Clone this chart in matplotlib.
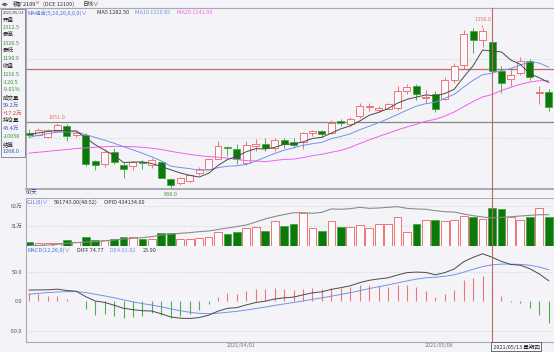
import matplotlib
import numpy as np

matplotlib.use("Agg")
import matplotlib.pyplot as plt
import matplotlib.transforms as mtransforms
from matplotlib.lines import Line2D
from matplotlib.patches import Rectangle

# Iron ore 2109 daily bars, 2021/03/01 .. 2021/05/21
opens = [1018, 1010, 1004, 1024, 1040, 1010, 1010, 927, 918, 956, 914, 909, 925, 914, 922, 868,
         855, 862, 887, 900, 934, 971, 967, 919, 975, 983, 968, 994, 988, 988, 1018, 1024,
         1018, 1055, 1048, 1072, 1102, 1091, 1096, 1098, 1153, 1169, 1130, 1142, 1126, 1188,
         1239, 1348, 1317, 1312.5, 1217, 1193, 1212, 1250, 1147, 1150]
highs = [1029, 1032, 1031, 1051, 1048, 1022, 1018, 929, 964, 968, 922, 927, 930, 935, 927, 870,
         874, 885, 908, 934, 991, 975, 981, 990, 997, 1000, 1000, 1001, 1000, 1022, 1028, 1028,
         1058, 1063, 1070, 1115, 1115, 1106, 1116, 1169, 1176, 1177, 1158, 1153, 1200, 1244,
         1350, 1356, 1358, 1326.5, 1233, 1225, 1262, 1258, 1171, 1160]
lows = [1003, 1006, 1002, 1020, 992, 1005, 911, 898, 906, 918, 873, 898, 900, 905, 870, 838,
        850, 858, 880, 897, 932, 943, 916, 915, 960, 958, 960, 970, 970, 964, 1008, 1005,
        1014, 1040, 1040, 1067, 1090, 1085, 1094, 1093, 1145, 1124, 1116, 1085, 1124, 1180,
        1225, 1276, 1296, 1190, 1148, 1170, 1205, 1188, 1110, 1090]
closes = [1012, 1027, 1027, 1044, 1007, 1016, 916, 914, 957, 922, 900, 922, 919, 929, 873, 848,
          871, 880, 902, 932, 975, 968, 932, 977, 981, 970, 994, 983, 980, 1016, 1025, 1013,
          1051, 1049, 1064, 1104, 1105, 1099, 1110, 1152, 1165, 1142, 1134, 1094, 1190, 1235,
          1339, 1318, 1348, 1216.5, 1178, 1206, 1249, 1198, 1150, 1101]

ma5 = [1013, 1018, 1022, 1026, 1023.4, 1024.2, 1002, 979.4, 962, 945, 921.8, 923, 924, 918.4,
       908.6, 898.2, 888, 880.2, 874.8, 886.6, 912, 931.4, 941.8, 956.8, 966.6, 965.6, 970.8,
       981, 981.6, 988.6, 999.6, 1003.4, 1017, 1030.8, 1040.4, 1056.2, 1074.6, 1084.2, 1096.4,
       1114, 1126.2, 1133.6, 1140.6, 1137.4, 1145, 1159, 1198.4, 1235.2, 1286, 1282.5, 1279.9,
       1253.3, 1239.5, 1209.5, 1196.2, 1180.8]
ma10 = [1003, 1010, 1015, 1020, 1021, 1021, 1012, 1003, 994, 984.2, 973, 962.5, 951.7, 940.2,
        926.8, 910, 905.5, 902.1, 896.6, 897.6, 905.1, 909.7, 911, 915.8, 926.6, 938.8, 951.1,
        961.4, 969.2, 977.6, 982.6, 987.1, 999, 1006.2, 1014.5, 1027.9, 1039, 1050.6, 1063.6,
        1077.2, 1091.2, 1104.1, 1112.4, 1116.9, 1129.5, 1142.6, 1166, 1187.9, 1206, 1210.85,
        1219.5, 1225.9, 1237.4, 1247.8, 1243.8, 1230.4]
ma20 = [952, 955, 958, 961, 964, 967, 969, 971, 973, 974, 974, 973, 971, 968, 964, 958, 953,
        948, 944, 940.9, 939.05, 936.1, 931.35, 928, 926.7, 924.4, 928.3, 931.75, 932.9, 937.6,
        943.85, 948.4, 955, 961, 970.55, 983.35, 995.05, 1006, 1016.4, 1027.4, 1036.9, 1045.6,
        1055.7, 1061.55, 1072, 1085.25, 1102.5, 1119.25, 1134, 1141.9, 1155.3, 1165, 1174.9,
        1182.3, 1186.6, 1186.5]

# volume and open interest, in 万 (10k lots)
volume = [5.7, 5.4, 5.4, 5.0, 9.3, 6.0, 13.5, 9.3, 9.3, 10.9, 14.5, 14.0, 10.9, 11.5, 19.6, 19.6,
          11.5, 11.5, 12.5, 13.5, 22.2, 18.6, 22.2, 28.4, 29.0, 23.8, 38.8, 31.0, 33.6, 50.6,
          27.4, 23.8, 39.0, 29.5, 29.0, 32.0, 27.4, 34.6, 34.0, 44.4, 21.2, 34.1, 39.8, 40.3,
          38.2, 39.8, 47.0, 44.4, 42.0, 59.2, 56.8, 45.4, 40.0, 45.4, 59.4, 44.4]
open_int = [0.5, 1.0, 1.5, 2.6, 4.2, 5.1, 6.2, 6.7, 7.8, 9.3, 10.9, 11.9, 12.9, 14.5, 17.0, 18.6,
            19.6, 20.7, 22.2, 23.2, 25.6, 27.9, 30.2, 32.6, 37.2, 41.9, 45.7, 48.8, 51.6, 51.6,
            50.7, 52.2, 57.4, 56.9, 57.8, 60.0, 58.4, 58.9, 60.0, 61.0, 58.4, 57.4, 56.9, 54.7,
            53.2, 52.7, 49.6, 47.0, 45.0, 43.4, 44.4, 45.4, 46.5, 47.5, 48.5, 48.5]

diff = [19.0, 19.3, 19.4, 20.6, 18.3, 17.0, 7.9, 0.5, -1.9, -6.6, -11.9, -14.2, -16.0, -16.5,
        -21.2, -26.6, -28.6, -29.2, -27.6, -23.6, -16.8, -11.9, -10.7, -6.1, -2.1, 0.2, 3.9,
        5.9, 7.1, 10.9, 14.4, 16.1, 20.2, 23.1, 26.3, 31.6, 35.6, 37.8, 39.9, 44.5, 48.6, 49.5,
        48.9, 44.8, 48.6, 54.7, 67.1, 74.4, 80.5, 74.77, 67.5, 62.4, 61.1, 55.3, 46.3, 34.8]
dea = [12.0, 13.5, 14.7, 15.8, 16.3, 16.5, 14.8, 11.9, 9.1, 6.0, 2.4, -0.9, -3.9, -6.4, -9.4,
       -12.8, -16.0, -18.6, -20.4, -21.1, -20.2, -18.6, -17.0, -14.8, -12.3, -9.8, -7.0, -4.5,
       -2.1, 0.5, 3.3, 5.8, 8.7, 11.6, 14.5, 17.9, 21.5, 24.7, 27.8, 31.1, 34.6, 37.6, 39.9,
       40.8, 42.4, 44.9, 49.3, 54.3, 58.8, 61.82, 63.0, 62.9, 62.5, 61.1, 58.1, 53.4]
macd_bar = [14.0, 11.6, 9.4, 9.6, 4.0, 1.0, -13.8, -22.8, -22.0, -25.2, -28.6, -26.6, -24.2,
            -20.2, -23.6, -27.6, -25.2, -21.2, -14.4, -5.0, 6.8, 13.4, 12.6, 17.4, 20.4, 20.0,
            21.8, 20.8, 18.4, 20.8, 22.2, 20.6, 23.0, 23.0, 23.6, 27.4, 28.2, 26.2, 24.2, 26.8,
            28.0, 23.8, 18.0, 8.0, 12.4, 19.6, 35.6, 40.2, 43.4, 25.9, 9.0, -1.0, -2.8, -11.6,
            -23.6, -37.2]

date_ticks = [23, 44]
date_labels = ["2021/04/01", "2021/05/06"]
cursor_idx = 49
cursor_price = 1226
level_line = 1054

info_labels = ["开盘", "1312.5", "最高", "1326.5", "最低", "1190.0", "收盘", "1216.5", "-120.5",
               "-9.01%", "成交量", "59.2万", "+17.2万", "持仓量", "43.4万", "-10038", "结算", "1268.0"]

W, H = 554, 352
BG = "#F4F4F8"
HOLLOW = "#FBFBFD"
UP = "#F07474"
DOWN = "#0B7A0B"
DOWN_EDGE = "#3C9E3C"
WICK_DN = "#4FAF4F"
MA5_C = "#4A4A4A"
MA10_C = "#7393E8"
MA20_C = "#F060F0"
CROSS_C = "#BB6A6A"
GRID_C = "#C4C4CC"
FRAME_C = "#A9A9B2"
BLUE_T = "#4F6FD8"
FS = 4.0

plt.rcParams["font.family"] = ["Noto Sans CJK SC", "DejaVu Sans"]
plt.rcParams["font.weight"] = "light"

fig = plt.figure(figsize=(W / 100, H / 100), dpi=100, facecolor=BG)


def put(px, py, s, color="#222222", size=FS, ha="left", **kw):
    fig.text(px / W, 1 - py / H, s, color=color, fontsize=size, ha=ha, va="center", **kw)


def add_panel(top, bottom):
    ax = fig.add_axes([26 / W, 1 - bottom / H, 1 - 26 / W, (bottom - top) / H])
    ax.set_facecolor(BG)
    ax.set_xlim(-0.32, 55.56)
    ax.set_xticks([])
    for side in ("top", "right", "bottom"):
        ax.spines[side].set_visible(False)
    ax.spines["left"].set_color(FRAME_C)
    ax.spines["left"].set_linewidth(0.8)
    ax.tick_params(axis="y", length=0, pad=2.5, labelsize=FS, labelcolor="#555555")
    return ax


x = np.arange(len(closes))
o, c = np.array(opens), np.array(closes)
h, l = np.array(highs), np.array(lows)
up = c >= o

# ---- price panel
ax_p = add_panel(8, 189)
ax_p.set_ylim(836, 1422)
ax_p.set_yticks([])
ax_p.spines["top"].set_visible(True)
ax_p.spines["top"].set_color(FRAME_C)
ax_p.spines["bottom"].set_visible(True)
ax_p.spines["bottom"].set_color(FRAME_C)
ax_p.spines["bottom"].set_linewidth(1.4)
for lv in (1000, 1258):
    ax_p.axhline(lv, color=GRID_C, lw=0.6, ls=(0, (1, 2)), zorder=0)
ax_p.axhline(level_line, color="#858585", lw=0.9, zorder=1)
ax_p.axhline(cursor_price, color=CROSS_C, lw=0.9, zorder=1)

top = np.maximum(o, c)
bot = np.minimum(o, c)
wick_colors = np.where(up, UP, WICK_DN)
ax_p.vlines(x, top, h, colors=wick_colors, lw=0.7, zorder=2)
ax_p.vlines(x, l, bot, colors=wick_colors, lw=0.7, zorder=2)
body = np.maximum(top - bot, 1.5)
ax_p.bar(x[up], body[up], bottom=bot[up], width=0.74, facecolor=HOLLOW,
         edgecolor=UP, linewidth=0.7, zorder=3)
ax_p.bar(x[~up], body[~up], bottom=bot[~up], width=0.74, facecolor=DOWN,
         edgecolor=DOWN_EDGE, linewidth=0.5, zorder=3)

ax_p.plot(x, ma20, color=MA20_C, lw=0.7, zorder=4)
ax_p.plot(x, ma10, color=MA10_C, lw=0.7, zorder=4)
ax_p.plot(x, ma5, color=MA5_C, lw=0.7, zorder=4)

i_hi1 = 3
i_hi2 = int(np.argmax(h))
i_lo = int(np.argmin(l))
for i, dy in ((i_hi1, 2.2), (i_hi2, 3.8)):
    ax_p.annotate(f"{h[i]:.1f}", (i, h[i]), xytext=(0, dy), textcoords="offset points",
                  ha="center", va="bottom", fontsize=FS, color=UP,
                  arrowprops=dict(arrowstyle="-", color=UP, lw=0.5, shrinkA=0, shrinkB=0),
                  annotation_clip=False)
ax_p.annotate(f"{l[i_lo]:.1f}", (i_lo, l[i_lo]), xytext=(0, -4.5), textcoords="offset points",
              ha="center", va="center", fontsize=FS, color="#3A9A3A", annotation_clip=False)

# ---- volume panel
ax_v = add_panel(198, 246)
ax_v.set_ylim(0, 74.4)
ax_v.spines["top"].set_visible(True)
ax_v.spines["top"].set_color(FRAME_C)
ax_v.spines["top"].set_linewidth(0.7)
ax_v.set_yticks([62, 31])
ax_v.set_yticklabels(["62万", "31万"])
for lv in (62, 31):
    ax_v.axhline(lv, color=GRID_C, lw=0.6, ls=(0, (1, 2)), zorder=0)
vol = np.array(volume)
ax_v.bar(x[up], vol[up], width=0.82, facecolor=HOLLOW, edgecolor=UP, linewidth=0.7, zorder=2)
ax_v.bar(x[~up], vol[~up], width=0.82, facecolor=DOWN, edgecolor=DOWN_EDGE, linewidth=0.5, zorder=2)
ax_v.plot(x, open_int, color="#8C8C8C", lw=0.8, zorder=3)

# ---- MACD panel
ax_m = add_panel(246, 341.7)
ax_m.set_ylim(-68.5, 93.7)
ax_m.spines["bottom"].set_visible(True)
ax_m.spines["bottom"].set_color(FRAME_C)
ax_m.set_yticks([50, 0, -50])
ax_m.set_yticklabels(["50.0", "0.0", "-50.0"])
for lv in (50, -50):
    ax_m.axhline(lv, color=GRID_C, lw=0.6, ls=(0, (1, 2)), zorder=0)
mb = np.array(macd_bar)
ax_m.vlines(x, 0, mb, colors=np.where(mb >= 0, UP, WICK_DN), lw=0.8, zorder=2)
ax_m.plot(x, dea, color=MA10_C, lw=0.7, zorder=3)
ax_m.plot(x, diff, color=MA5_C, lw=0.7, zorder=3)

# ---- cursor line through all panels
blend = mtransforms.blended_transform_factory(ax_p.transData, fig.transFigure)
fig.add_artist(Line2D([cursor_idx, cursor_idx], [0, 1 - 8 / H], transform=blend,
                      color=CROSS_C, lw=0.8, zorder=10))

# ---- headers
fig.add_artist(Line2D([0, 1], [1 - 8 / H, 1 - 8 / H], transform=fig.transFigure,
                      color=FRAME_C, lw=0.8))
put(1, 4.3, "◀▶", color="#666666", size=3.0)
put(12.5, 4.3, "铁矿2109", color="#222222")
put(35.5, 2.8, "M", color="#E04040", size=2.6)
put(43, 4.3, "(DCE 12109)", color="#333333")
put(82, 4.3, "日线∨", color="#333333")

put(27, 12.7, "MA组合(5,10,20,0,0,0)∨", color=BLUE_T)
put(97, 12.7, "MA5 1282.50", color="#333333")
put(135, 12.7, "MA10 1210.85", color=MA10_C)
put(177, 12.7, "MA20 1141.90", color=MA20_C)

put(26, 192.5, "60天", color="#34468C")
put(27, 202.7, "CJL(0)∨", color=BLUE_T)
put(54, 202.7, "591743.00(48:52)", color="#333333")
put(104, 202.7, "OPID 434134.00", color="#333333")

put(27, 250, "MACD(12,26,9)∨", color=BLUE_T)
put(77, 250, "DIFF 74.77", color="#333333")
put(110, 250, "DEA 61.82", color=MA10_C)
put(143, 250, "25.90", color="#333333")

# ---- left info box
fig.add_artist(Rectangle((1 / W, 1 - 156.7 / H), 24 / W, 147.4 / H, transform=fig.transFigure,
                         facecolor=BG, edgecolor="#8A8A92", lw=0.7))
put(2.5, 12.7, "2021/05/13", color="#333333", size=2.9)
info_colors = ["#222222", "#2E9A2E", "#222222", "#2E9A2E", "#222222", "#2E9A2E", "#222222",
               "#2E9A2E", "#2E9A2E", "#2E9A2E", "#222222", "#3550C0", "#E03C3C", "#222222",
               "#3550C0", "#2E9A2E", "#222222", "#3550C0"]
for k, (txt, col) in enumerate(zip(info_labels, info_colors)):
    put(2.5, 20 + k * 7.75, txt, color=col)

# ---- date axis
date_tf = mtransforms.blended_transform_factory(ax_m.transData, fig.transFigure)
for pos, lab in zip(date_ticks, date_labels):
    fig.text(pos - 0.55, 1 - 346 / H, lab, transform=date_tf, ha="center", va="center",
             fontsize=FS, color="#7A7A7A")
fig.text(cursor_idx, 1 - 346.5 / H, " 2021/05/13 星期四", transform=date_tf, ha="left",
         va="center", fontsize=FS, color="#222222", zorder=11,
         bbox=dict(boxstyle="square,pad=0.25", facecolor="#FAFAFC", edgecolor="#555555", lw=0.6))

fig.savefig("out.png", dpi=100, facecolor=BG)
